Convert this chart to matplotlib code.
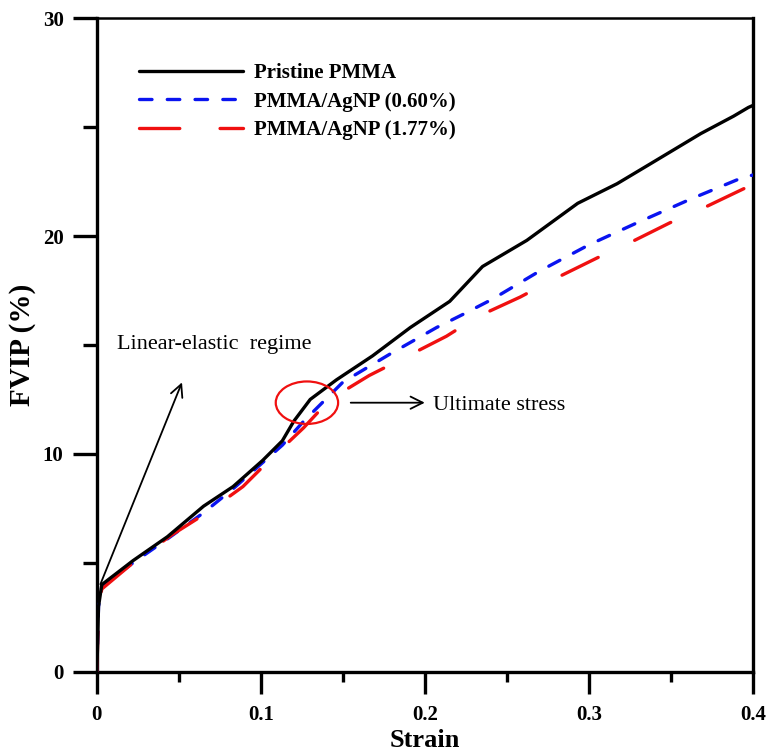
#!/usr/bin/python
# -*- encoding: utf-8 -*-
'''
FVIP vs strain for pristine PMMA and PMMA/AgNP films
'''

import numpy as np
import matplotlib
matplotlib.use('Agg')
import matplotlib.pyplot as plt
from matplotlib.patches import Ellipse
from matplotlib.ticker import MultipleLocator

#* Data
strain_pristine = [0.0, 0.001, 0.003, 0.022, 0.043, 0.065, 0.083, 0.101, 0.113, 0.120,
                   0.130, 0.146, 0.168, 0.191, 0.215, 0.235, 0.262, 0.293, 0.317,
                   0.337, 0.368, 0.388, 0.397, 0.400]
fvip_pristine = [0.0, 3.0, 4.0, 5.1, 6.2, 7.6, 8.5, 9.7, 10.6, 11.5,
                 12.5, 13.4, 14.5, 15.8, 17.0, 18.6, 19.8, 21.5, 22.4,
                 23.3, 24.7, 25.5, 25.9, 26.0]

strain_agnp060 = [0.0, 0.001, 0.003, 0.022, 0.043, 0.065, 0.083, 0.101, 0.113, 0.126,
                  0.150, 0.179, 0.207, 0.223, 0.241, 0.270, 0.300, 0.329, 0.362,
                  0.394, 0.400]
fvip_agnp060 = [0.0, 3.0, 3.9, 5.0, 6.1, 7.3, 8.4, 9.6, 10.4, 11.5,
                13.3, 14.6, 15.8, 16.4, 17.1, 18.4, 19.6, 20.6, 21.7,
                22.7, 22.8]

strain_agnp177 = [0.0, 0.001, 0.003, 0.022, 0.046, 0.067, 0.089, 0.105, 0.126, 0.142,
                  0.166, 0.187, 0.213, 0.232, 0.258, 0.278, 0.305, 0.325, 0.349,
                  0.370, 0.395, 0.400]
fvip_agnp177 = [0.0, 3.0, 3.8, 5.0, 6.3, 7.3, 8.5, 9.7, 11.2, 12.5,
                13.6, 14.4, 15.4, 16.3, 17.2, 18.0, 19.0, 19.7, 20.6,
                21.3, 22.2, 22.4]

labels = ['Pristine PMMA', 'PMMA/AgNP (0.60%)', 'PMMA/AgNP (1.77%)']
x_ticks = [0, 0.1, 0.2, 0.3, 0.4]
x_ticklabels = ['0', '0.1', '0.2', '0.3', '0.4']
y_ticks = [0, 10, 20, 30]
y_ticklabels = ['0', '10', '20', '30']

X_RANGE = [0, 0.4]
Y_RANGE = [0, 30]

#* Style
plt.rcParams['font.family'] = ['Liberation Serif', 'DejaVu Serif']
plt.rcParams['lines.scale_dashes'] = False

fig = plt.figure(figsize=(7.75, 7.54), dpi=100)
ax = fig.add_axes([0.125, 0.109, 0.847, 0.867])

#* Curves
lw = 2.4
ax.plot(strain_pristine, fvip_pristine, color='black', lw=lw, label=labels[0],
        solid_capstyle='round', zorder=4)
ax.plot(strain_agnp060, fvip_agnp060, color='#0a14f0', lw=lw, label=labels[1],
        dashes=(9, 11), dash_capstyle='round', zorder=3)
ax.plot(strain_agnp177, fvip_agnp177, color='#f01010', lw=lw, label=labels[2],
        dashes=(29, 29), dash_capstyle='round', zorder=3)

#* Axes
ax.set_xlim(X_RANGE)
ax.set_ylim(Y_RANGE)
ax.xaxis.set_minor_locator(MultipleLocator(0.05))
ax.yaxis.set_minor_locator(MultipleLocator(5))
tick_font = {'family': 'Liberation Serif', 'weight': 'bold', 'size': 15}
ax.set_xticks(x_ticks)
ax.set_xticklabels(x_ticklabels, fontdict=tick_font)
ax.set_yticks(y_ticks)
ax.set_yticklabels(y_ticklabels, fontdict=tick_font)

for side in ['left', 'bottom', 'right']:
    ax.spines[side].set_linewidth(2.4)
ax.spines['top'].set_linewidth(1.8)

ax.tick_params(axis='y', which='major', direction='out', length=17, width=2.4, pad=7)
ax.tick_params(axis='x', which='major', direction='out', length=16, width=2.4, pad=8)
ax.tick_params(axis='y', which='minor', direction='out', length=10, width=2.4)
ax.tick_params(axis='x', which='minor', direction='out', length=7.5, width=2.4)

ax.set_xlabel('Strain', fontsize=19, fontweight='bold', labelpad=3)
ax.set_ylabel('FVIP (%)', fontsize=21, fontweight='bold', labelpad=5)

#* Legend
ax.legend(loc='upper left', bbox_to_anchor=(0.035, 0.96), frameon=False,
          handlelength=5.0, handletextpad=0.55, labelspacing=0.42,
          prop={'family': 'Liberation Serif', 'weight': 'bold', 'size': 15})

#* Annotations
ax.annotate('', xy=(0.0525, 13.4), xytext=(0.0015, 3.9),
            arrowprops=dict(arrowstyle='->', color='black', lw=1.3,
                            mutation_scale=22))
ax.text(0.012, 15.0, 'Linear-elastic  regime', fontsize=16, va='center')

ax.add_patch(Ellipse((0.128, 12.35), 0.038, 1.95, fill=False,
                     edgecolor='#f01010', lw=1.6, zorder=5))
ax.annotate('', xy=(0.2015, 12.35), xytext=(0.153, 12.35),
            arrowprops=dict(arrowstyle='->', color='black', lw=1.3,
                            mutation_scale=22))
ax.text(0.205, 12.2, 'Ultimate stress', fontsize=16, va='center')

fig.savefig('out.png', dpi=100)
